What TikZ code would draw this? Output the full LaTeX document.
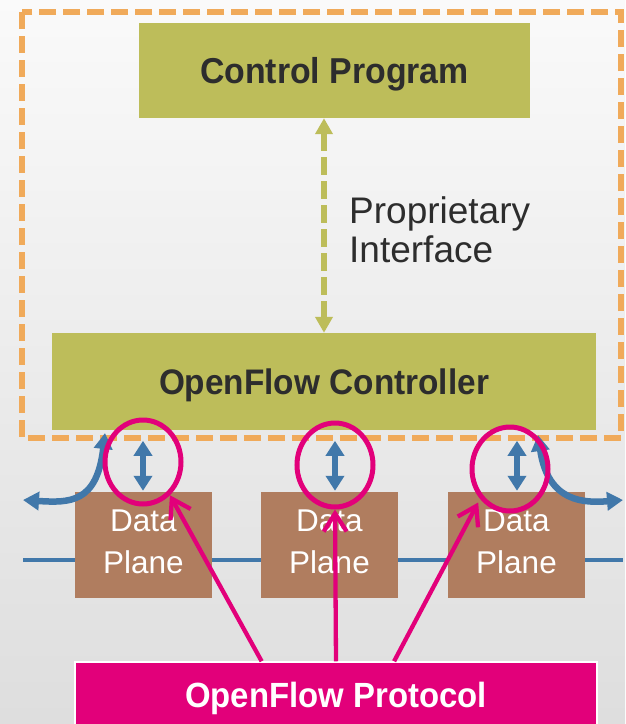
\documentclass[tikz,border=0pt]{standalone}
\usepackage{fontspec}
\setmainfont{Liberation Sans}
\newfontfamily\titlefont[FakeStretch=0.94]{Liberation Sans}
\usetikzlibrary{arrows.meta,shapes.geometric,calc}

\definecolor{olivefill}{RGB}{189,189,90}
\definecolor{planebrown}{RGB}{176,125,95}
\definecolor{ofmagenta}{RGB}{226,0,122}
\definecolor{linkblue}{RGB}{65,120,170}
\definecolor{frameorange}{RGB}{240,170,90}
\definecolor{inktext}{RGB}{45,45,45}

\begin{document}
\begin{tikzpicture}[x=1pt, y=-1pt,
  olivebox/.style={fill=olivefill, inner sep=0pt, text=inktext},
  planebox/.style={fill=planebrown, minimum width=137pt, minimum height=106pt, inner sep=0pt},
  planetext/.style={text=white, align=center, inner sep=0pt, font=\fontsize{31.5}{42}\selectfont},
  frame/.style={draw=frameorange, line width=5.5pt, dash pattern=on 17pt off 7pt},
  ctrlif/.style={draw=olivefill, line width=6pt, dash pattern=on 18pt off 6pt,
    {Triangle[width=17pt,length=16pt]}-{Triangle[width=17pt,length=16pt]}},
  bus/.style={draw=linkblue, line width=4pt},
  vlink/.style={draw=linkblue, line width=5.5pt,
    {Triangle[width=18pt,length=15pt]}-{Triangle[width=18pt,length=15pt]}},
  curvelink/.style={draw=linkblue, line width=6.5pt,
    {Triangle[width=18pt,length=16pt]}-{Triangle[width=18pt,length=16pt]}},
  ring/.style={ellipse, draw=ofmagenta, line width=5pt, minimum width=76pt,
    minimum height=84pt, inner sep=0pt},
  protolink/.style={draw=ofmagenta, line width=4.3pt, -{Straight Barb[length=18pt,width=23pt]}}
]
\useasboundingbox (0,0) rectangle (625,724);

% backdrop
\shade[top color=black!2, bottom color=black!13] (0,0) rectangle (625,724);

% controller domain
\draw[frame] (22,12) rectangle (621,438);

\node[olivebox, minimum width=391pt, minimum height=95pt,
  font=\titlefont\fontsize{36}{40}\selectfont\bfseries, text height=25.8pt, text depth=0pt]
  (cp) at (334.5,70.5) {Control Program};
\node[olivebox, minimum width=544pt, minimum height=97pt,
  font=\titlefont\fontsize{35.5}{40}\selectfont\bfseries, text height=25.4pt, text depth=0pt]
  (oc) at (324,381.5) {OpenFlow Controller};

\draw[ctrlif] (cp.south -| oc.north) -- (oc.north);

\node[anchor=west, align=left, inner sep=0pt, text=inktext,
  font=\fontsize{37}{39}\selectfont] (pi) at (349,229.5) {Proprietary\\Interface};

% forwarding path
\coordinate (busL) at (23,560);
\coordinate (busR) at (623,560);
\draw[bus] (busL) -- (busR);

\node[planebox] (dp1) at (143.5,545) {};
\node[planebox] (dp2) at (329.5,545) {};
\node[planebox] (dp3) at (516.5,545) {};
\node[planetext] (dp1t) at ($(dp1)+(0,-3)$) {Data\\Plane};
\node[planetext] (dp2t) at ($(dp2)+(0,-3)$) {Data\\Plane};
\node[planetext] (dp3t) at ($(dp3)+(0,-3)$) {Data\\Plane};

% controller <-> switch links
\draw[vlink] ($(dp1.north)+(-0.5,-51)$) -- ($(dp1.north)+(-0.5,-1)$);
\draw[vlink] ($(dp2.north)+(5.5,-51)$) -- ($(dp2.north)+(5.5,-1)$);
\draw[vlink] ($(dp3.north)+(0.5,-51)$) -- ($(dp3.north)+(0.5,-1)$);

% traffic leaving the network
\coordinate (lup) at (105,433);
\coordinate (lout) at (23,500);
\coordinate (rup) at (538,435);
\coordinate (rout) at (623,500);
\draw[curvelink] (lup) .. controls (97,503) and (70,503) .. (lout);
\draw[curvelink] (rup) .. controls (548,503) and (585,503) .. (rout);

% highlighted channels
\node[ring] (e1) at (143,462) {};
\node[ring] (e2) at (335,465) {};
\node[ring] (e3) at (510,469) {};

\node[fill=ofmagenta, draw=white, line width=1.5pt, minimum width=522pt,
  minimum height=66pt, inner sep=0pt, text=white,
  font=\titlefont\fontsize{35}{40}\selectfont\bfseries, text height=25pt, text depth=0pt]
  (proto) at (336,695) {OpenFlow Protocol};

\draw[protolink] ($(proto.north west)!0.358!(proto.north east)$) -- (e1.-51);
\draw[protolink] (proto.north) -- (e2.south);
\draw[protolink, shorten >=4pt] ($(proto.north west)!0.611!(proto.north east)$) -- (e3.225);
\end{tikzpicture}
\end{document}
